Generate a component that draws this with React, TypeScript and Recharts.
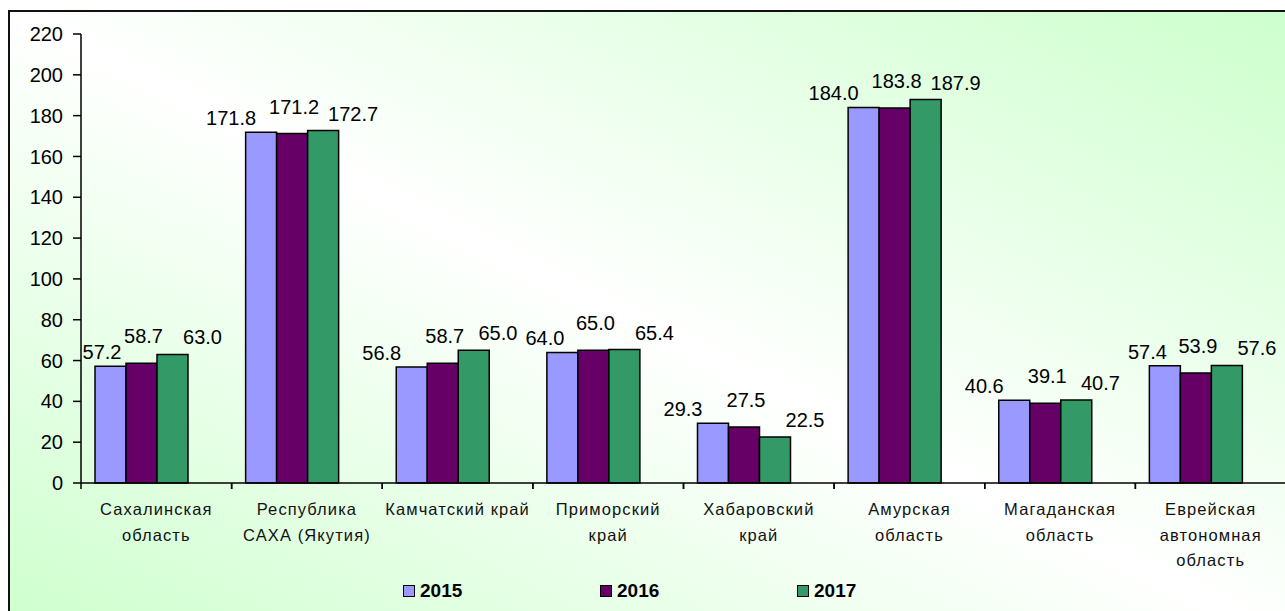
import React from 'react';
import { BarChart, Bar, XAxis, YAxis, LabelList } from 'recharts';

// regions, with the line breaks used on the axis
const categories = [
  'Сахалинская\nобласть',
  'Республика\nСАХА (Якутия)',
  'Камчатский край',
  'Приморский\nкрай',
  'Хабаровский\nкрай',
  'Амурская\nобласть',
  'Магаданская\nобласть',
  'Еврейская\nавтономная\nобласть',
];

const values2015 = [57.2, 171.8, 56.8, 64.0, 29.3, 184.0, 40.6, 57.4];
const values2016 = [58.7, 171.2, 58.7, 65.0, 27.5, 183.8, 39.1, 53.9];
const values2017 = [63.0, 172.7, 65.0, 65.4, 22.5, 187.9, 40.7, 57.6];

const yTicks = [0, 20, 40, 60, 80, 100, 120, 140, 160, 180, 200, 220];

const SERIES = [
  { key: 'y2015', name: '2015', color: '#9999ff' },
  { key: 'y2016', name: '2016', color: '#660066' },
  { key: 'y2017', name: '2017', color: '#339966' },
];

const data = categories.map((name, i) => ({
  name,
  y2015: values2015[i],
  y2016: values2016[i],
  y2017: values2017[i],
}));

const CHART_W = 1300;
const CHART_H = 611;
const MARGIN = { top: 34, right: 14, left: 20, bottom: 28 };
const Y_AXIS_W = 61;
const X_AXIS_H = 100;
const PLOT_LEFT = MARGIN.left + Y_AXIS_W;
const PLOT_W = CHART_W - MARGIN.right - PLOT_LEFT;
const BAND = PLOT_W / categories.length;

const FONT = '"Liberation Sans", Arial, sans-serif';

// labels are fanned out sideways and lifted like in the original sheet
const LABEL_DX = [-30, 2, 30];
const LABEL_RISE = [14, 27, 17];

const renderLabel = (idx: number) => (props: any) => {
  const { x, y, width, value, index } = props;
  if (value == null) return null;
  let cx = Number(x) + Number(width) / 2 + LABEL_DX[idx];
  const i = Number(index);
  const bandLeft = PLOT_LEFT + i * BAND;
  // don't run into the axis or into a neighbour's label at the same height
  if (idx === 0) {
    if (i === 0) cx = Math.max(cx, bandLeft + 21);
    else if (Math.abs(values2017[i - 1] - Number(value)) < 20) cx = Math.max(cx, bandLeft + 12);
  }
  if (idx === 2 && i < categories.length - 1 && Math.abs(values2015[i + 1] - Number(value)) < 20) {
    cx = Math.min(cx, bandLeft + BAND - 35);
  }
  const cy = Number(y) - LABEL_RISE[idx];
  return (
    <text x={cx} y={cy + 7} textAnchor="middle" fontSize={20} fill="#000" fontFamily={FONT}>
      {Number(value).toFixed(1)}
    </text>
  );
};

const CategoryTick = (props: any) => {
  const { x, y, payload } = props;
  const lines = String(payload.value).split('\n');
  const left = x - BAND / 2;
  return (
    <g>
      <line x1={left} y1={y} x2={left} y2={y + 6} stroke="#000" strokeWidth={1.5} />
      <line x1={left + BAND} y1={y} x2={left + BAND} y2={y + 6} stroke="#000" strokeWidth={1.5} />
      {lines.map((ln, k) => (
        <text
          key={k}
          x={x}
          y={y + 32 + k * 25.5}
          textAnchor="middle"
          fontSize={16.5}
          letterSpacing={1.1}
          fill="#111"
          fontFamily={FONT}
        >
          {ln}
        </text>
      ))}
    </g>
  );
};

export default function App() {
  return (
    <div
      style={{
        position: 'absolute',
        left: 0,
        top: 0,
        width: 1285,
        height: 611,
        overflow: 'hidden',
        background: '#fff',
        fontFamily: FONT,
      }}
    >
      <div
        style={{
          position: 'absolute',
          left: 8,
          top: 10,
          width: 1300,
          height: 640,
          border: '2px solid #111',
          background: 'linear-gradient(to top right, #ccffcc 0%, #ffffff 50%, #ccffcc 100%)',
        }}
      />
      <div style={{ position: 'absolute', left: 0, top: 0 }}>
        <BarChart
          width={CHART_W}
          height={CHART_H}
          data={data}
          margin={MARGIN}
          barGap={0}
          barCategoryGap={14}
        >
          <XAxis
            dataKey="name"
            interval={0}
            height={X_AXIS_H}
            tickSize={0}
            tickMargin={0}
            tickLine={false}
            axisLine={{ stroke: '#000', strokeWidth: 1.5 }}
            tick={(p: any) => <CategoryTick {...p} />}
          />
          <YAxis
            domain={[0, 220]}
            ticks={yTicks}
            interval={0}
            width={Y_AXIS_W}
            tickSize={8}
            tickMargin={10}
            axisLine={{ stroke: '#000', strokeWidth: 1.5 }}
            tickLine={{ stroke: '#000', strokeWidth: 1.5 }}
            tick={{ fill: '#000', fontSize: 20, fontFamily: FONT }}
          />
          {SERIES.map((s, i) => (
            <Bar
              key={s.key}
              dataKey={s.key}
              name={s.name}
              fill={s.color}
              stroke="#000"
              strokeWidth={1.5}
              isAnimationActive={false}
            >
              <LabelList dataKey={s.key} content={renderLabel(i)} />
            </Bar>
          ))}
          {/* empty fourth slot, keeps the groups shifted left as in the source */}
          <Bar dataKey="spacer" fill="none" legendType="none" isAnimationActive={false} />
        </BarChart>
      </div>
      <div
        style={{
          position: 'absolute',
          left: 403,
          top: 580,
          display: 'flex',
          alignItems: 'center',
        }}
      >
        {SERIES.map((s) => (
          <div key={s.key} style={{ width: 197, display: 'flex', alignItems: 'center' }}>
            <span
              style={{
                display: 'inline-block',
                width: 10,
                height: 10,
                background: s.color,
                border: '1.5px solid #000',
                marginRight: 5,
              }}
            />
            <span style={{ fontWeight: 'bold', fontSize: 19, color: '#000' }}>{s.name}</span>
          </div>
        ))}
      </div>
    </div>
  );
}
